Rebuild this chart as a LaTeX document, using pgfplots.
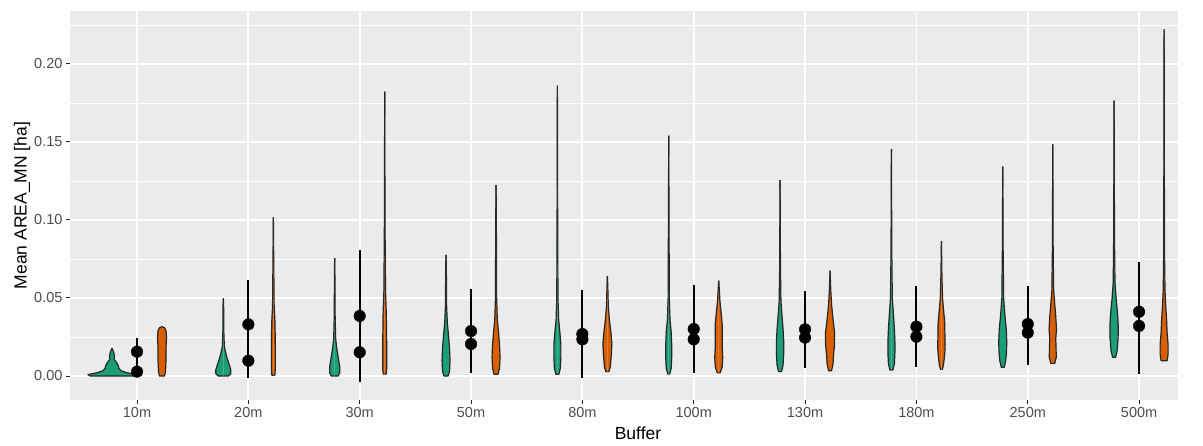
\documentclass[border=0pt]{standalone}
\usepackage{fontspec}
\setmainfont{Liberation Sans}
\usepackage{pgfplots}
\pgfplotsset{compat=1.18}
\usepackage{pgfplotstable}
\definecolor{bg}{HTML}{EBEBEB}
\definecolor{cg}{HTML}{1B9E77}
\definecolor{co}{HTML}{D95F02}
\definecolor{tk}{HTML}{4D4D4D}
\definecolor{ol}{HTML}{262626}
% violin profiles: y value, half width in pixels (first row closes the bottom at the centre)
\pgfplotstableread[row sep=\\]{y w\\ 0 0\\ 0 22\\ 0.0009 24\\ 0.0021 15\\ 0.0034 9\\ 0.0049 7\\ 0.0071 6\\ 0.0092 4\\ 0.0107 2\\ 0.0124 2.5\\ 0.0145 2\\ 0.0167 0.8\\ 0.0178 0\\}\Ga
\pgfplotstableread[row sep=\\]{y w\\ 0 0\\ 0 2.5\\ 0.003 3.5\\ 0.01 4\\ 0.018 4\\ 0.025 4.5\\ 0.029 4\\ 0.031 2.5\\ 0.0316 0\\}\Oa
\pgfplotstableread[row sep=\\]{y w\\ 0 0\\ 0 5\\ 0.0015 7.5\\ 0.004 7.5\\ 0.008 5.5\\ 0.012 3.5\\ 0.016 2\\ 0.019 1\\ 0.03 0.4\\ 0.045 0.3\\ 0.0498 0\\}\Gb
\pgfplotstableread[row sep=\\]{y w\\ 0.0005 0\\ 0.0005 1.5\\ 0.005 2\\ 0.02 2\\ 0.035 1.6\\ 0.045 0.8\\ 0.08 0.3\\ 0.1019 0\\}\Ob
\pgfplotstableread[row sep=\\]{y w\\ 0 0\\ 0 3.5\\ 0.002 5\\ 0.006 5\\ 0.012 3.5\\ 0.018 2\\ 0.024 1\\ 0.04 0.4\\ 0.06 0.3\\ 0.0756 0\\}\Gc
\pgfplotstableread[row sep=\\]{y w\\ 0.0013 0\\ 0.0013 1.5\\ 0.005 2\\ 0.02 2\\ 0.04 1.6\\ 0.055 0.8\\ 0.1 0.3\\ 0.1823 0\\}\Oc
\pgfplotstableread[row sep=\\]{y w\\ 0 0\\ 0 2\\ 0.003 3.5\\ 0.01 4\\ 0.018 3.5\\ 0.026 2.5\\ 0.034 1.3\\ 0.045 0.6\\ 0.07 0.3\\ 0.0776 0\\}\Gd
\pgfplotstableread[row sep=\\]{y w\\ 0.0011 0\\ 0.0011 2\\ 0.005 3.5\\ 0.012 4\\ 0.02 3.5\\ 0.028 2.5\\ 0.036 1.3\\ 0.05 0.6\\ 0.1 0.3\\ 0.1224 0\\}\Od
\pgfplotstableread[row sep=\\]{y w\\ 0.0011 0\\ 0.0011 1.5\\ 0.005 3\\ 0.012 3.5\\ 0.02 3.5\\ 0.028 2.5\\ 0.036 1.3\\ 0.05 0.6\\ 0.1 0.3\\ 0.1861 0\\}\Ge
\pgfplotstableread[row sep=\\]{y w\\ 0.0028 0\\ 0.0028 1.5\\ 0.006 3\\ 0.014 4\\ 0.021 4.5\\ 0.028 3.5\\ 0.036 2\\ 0.045 0.9\\ 0.058 0.4\\ 0.0641 0\\}\Oe
\pgfplotstableread[row sep=\\]{y w\\ 0.0013 0\\ 0.0013 1\\ 0.005 2.5\\ 0.012 3\\ 0.02 3\\ 0.028 2.5\\ 0.036 1.3\\ 0.05 0.6\\ 0.1 0.3\\ 0.154 0\\}\Gf
\pgfplotstableread[row sep=\\]{y w\\ 0.0021 0\\ 0.0021 1.5\\ 0.006 3.5\\ 0.012 4\\ 0.018 3.5\\ 0.025 3.5\\ 0.033 3.5\\ 0.04 2.5\\ 0.048 1.2\\ 0.055 0.6\\ 0.0611 0\\}\Of
\pgfplotstableread[row sep=\\]{y w\\ 0.0028 0\\ 0.0028 1.5\\ 0.007 3\\ 0.015 3.7\\ 0.022 3.7\\ 0.03 3\\ 0.038 2\\ 0.048 0.9\\ 0.07 0.4\\ 0.1256 0\\}\Gg
\pgfplotstableread[row sep=\\]{y w\\ 0.0034 0\\ 0.0034 1.5\\ 0.008 3\\ 0.014 3.5\\ 0.02 4.5\\ 0.028 4.5\\ 0.036 3\\ 0.045 1.6\\ 0.055 0.7\\ 0.0675 0\\}\Og
\pgfplotstableread[row sep=\\]{y w\\ 0.0038 0\\ 0.0038 1.5\\ 0.008 3\\ 0.015 3.5\\ 0.022 3.5\\ 0.03 3\\ 0.04 2\\ 0.05 0.9\\ 0.08 0.4\\ 0.1455 0\\}\Gh
\pgfplotstableread[row sep=\\]{y w\\ 0.0043 0\\ 0.0043 1\\ 0.007 2\\ 0.012 3\\ 0.018 3.7\\ 0.026 3.5\\ 0.034 3.3\\ 0.042 2.2\\ 0.05 1.1\\ 0.065 0.5\\ 0.0865 0\\}\Oh
\pgfplotstableread[row sep=\\]{y w\\ 0.0056 0\\ 0.0056 1.5\\ 0.01 3\\ 0.016 3.8\\ 0.022 4\\ 0.03 3.5\\ 0.04 2\\ 0.05 0.9\\ 0.08 0.4\\ 0.1342 0\\}\Gi
\pgfplotstableread[row sep=\\]{y w\\ 0.0081 0\\ 0.0081 2\\ 0.012 3.5\\ 0.018 3.3\\ 0.024 3\\ 0.03 3.7\\ 0.038 3\\ 0.046 2\\ 0.055 0.9\\ 0.08 0.4\\ 0.1485 0\\}\Oi
\pgfplotstableread[row sep=\\]{y w\\ 0.012 0\\ 0.012 1.5\\ 0.016 3\\ 0.024 4\\ 0.032 4.2\\ 0.04 3.5\\ 0.05 2\\ 0.06 0.9\\ 0.09 0.4\\ 0.1765 0\\}\Gj
\pgfplotstableread[row sep=\\]{y w\\ 0.0098 0\\ 0.0098 3\\ 0.014 4\\ 0.02 4\\ 0.028 3\\ 0.036 2.5\\ 0.045 1.6\\ 0.055 0.9\\ 0.08 0.4\\ 0.2222 0\\}\Oj
% summary points
\pgfplotstableread[row sep=\\]{x m\\ 0 0.0156\\ 0 0.0028\\ 1 0.0331\\ 1 0.0098\\ 2 0.0385\\ 2 0.0152\\ 3 0.0288\\ 3 0.0205\\ 4 0.0269\\ 4 0.0235\\ 5 0.0301\\ 5 0.0235\\ 6 0.0299\\ 6 0.0246\\ 7 0.0316\\ 7 0.0252\\ 8 0.0333\\ 8 0.0278\\ 9 0.0412\\ 9 0.0321\\}\Pts
\newcommand\violin[3]{%
  \addplot[fill=#2, draw=ol, line width=1.2pt, line join=round, forget plot] table[x expr={#1+\thisrow{w}/111.33}, y=y]{#3};
  \addplot[fill=#2, draw=ol, line width=1.2pt, line join=round, forget plot] table[x expr={#1-\thisrow{w}/111.33}, y=y]{#3};
}
\begin{document}
\begin{tikzpicture}
\path[use as bounding box] (-70pt,-46pt) rectangle (1133pt,400pt);
\begin{axis}[
  scale only axis, width=1108pt, height=389pt,
  xmin=-0.6018, xmax=9.35, ymin=-0.01538, ymax=0.23397,
  axis background/.style={fill=bg},
  axis line style={draw=none},
  xtick={0,...,9},
  xticklabels={10m,20m,30m,50m,80m,100m,130m,180m,250m,500m},
  ytick={0,0.05,0.1,0.15,0.2},
  minor ytick={0.025,0.075,0.125,0.175,0.225},
  xmajorgrids, ymajorgrids, yminorgrids,
  major grid style={white, line width=1.8pt},
  minor grid style={white, line width=0.9pt},
  tick pos=left, tick align=outside,
  major tick length=4pt, minor tick length=0pt,
  every tick/.style={ol, line width=1pt},
  tick label style={font=\fontsize{14.5}{16}\selectfont, text=tk},
  /pgf/number format/assume math mode=true,
  yticklabel style={/pgf/number format/.cd, fixed, fixed zerofill, precision=2, /tikz/.cd},
  xlabel={Buffer}, ylabel={Mean AREA\_MN [ha]},
  every axis x label/.style={at={(axis description cs:0.5126,-0.0848)}, anchor=center, font=\fontsize{17.5}{20}\selectfont},
  every axis y label/.style={at={(axis description cs:-0.0433,0.5)}, anchor=center, rotate=90, font=\fontsize{17.5}{20}\selectfont},
]
\violin{-0.2246}{cg}{\Ga}
\violin{0.2246}{co}{\Oa}
\violin{0.7754}{cg}{\Gb}
\violin{1.2246}{co}{\Ob}
\violin{1.7754}{cg}{\Gc}
\violin{2.2246}{co}{\Oc}
\violin{2.7754}{cg}{\Gd}
\violin{3.2246}{co}{\Od}
\violin{3.7754}{cg}{\Ge}
\violin{4.2246}{co}{\Oe}
\violin{4.7754}{cg}{\Gf}
\violin{5.2246}{co}{\Of}
\violin{5.7754}{cg}{\Gg}
\violin{6.2246}{co}{\Og}
\violin{6.7754}{cg}{\Gh}
\violin{7.2246}{co}{\Oh}
\violin{7.7754}{cg}{\Gi}
\violin{8.2246}{co}{\Oi}
\violin{8.7754}{cg}{\Gj}
\violin{9.2246}{co}{\Oj}
\addplot[black, line width=2pt] coordinates {(0,0) (0,0.0242)};
\addplot[black, line width=2pt] coordinates {(1,-0.0015) (1,0.0615)};
\addplot[black, line width=2pt] coordinates {(2,-0.0036) (2,0.0808)};
\addplot[black, line width=2pt] coordinates {(3,0.0017) (3,0.0558)};
\addplot[black, line width=2pt] coordinates {(4,-0.0015) (4,0.0551)};
\addplot[black, line width=2pt] coordinates {(5,0.0017) (5,0.0583)};
\addplot[black, line width=2pt] coordinates {(6,0.0049) (6,0.0545)};
\addplot[black, line width=2pt] coordinates {(7,0.0056) (7,0.0579)};
\addplot[black, line width=2pt] coordinates {(8,0.0071) (8,0.0579)};
\addplot[black, line width=2pt] coordinates {(9,0.0013) (9,0.0733)};
\addplot[only marks, mark=*, mark size=5.8pt, black] table[x=x, y=m]{\Pts};
\end{axis}
\end{tikzpicture}
\end{document}
